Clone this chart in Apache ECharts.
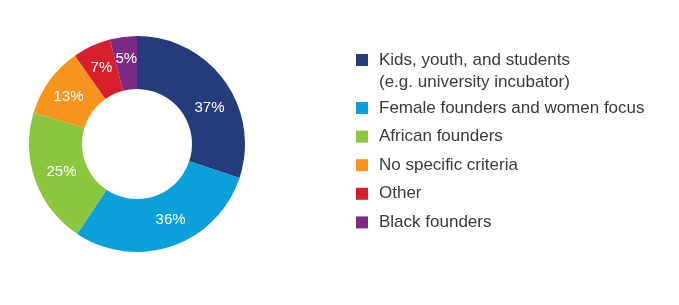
<!DOCTYPE html>
<html>
<head>
<meta charset="utf-8">
<script src="https://cdn.jsdelivr.net/npm/echarts@6/dist/echarts.min.js"></script>
<style>
html,body{margin:0;padding:0;background:#fff;}
#c{width:679px;height:305px;}
</style>
</head>
<body>
<div id="c"></div>
<script>
const categories = [
  'Kids, youth, and students\n(e.g. university incubator)',
  'Female founders and women focus',
  'African founders',
  'No specific criteria',
  'Other',
  'Black founders'
];
const values = [37, 36, 25, 13, 7, 5];
const colors = ['#253b7c', '#0ba0da', '#8cc63f', '#f7941d', '#d71f2b', '#7c2a84'];
const labelShift = [[4, 13], [6, -4], [4, -1], [0, 2], [0, 1], [0, -1]];

const FONT = '"Liberation Sans", Arial, Helvetica, sans-serif';
const chart = echarts.init(document.getElementById('c'), null, {renderer: 'canvas'});

const data = categories.map((c, i) => ({name: c, value: values[i], itemStyle: {color: colors[i]}}));

chart.setOption({
  animation: false,
  backgroundColor: '#fff',
  legend: [
    {
      data: [categories[0]],
      orient: 'vertical',
      left: 356,
      top: 27,
      padding: 0,
      itemWidth: 12,
      itemHeight: 12,
      icon: 'rect',
      selectedMode: false,
      formatter: n => ' \n' + n,
      textStyle: {fontFamily: FONT, fontSize: 17, color: '#3a3a3a', lineHeight: 22, padding: [0, 0, 0, 6]}
    },
    {
      data: categories.slice(1),
      orient: 'vertical',
      left: 356,
      top: 98,
      padding: 0,
      itemWidth: 12,
      itemHeight: 12,
      itemGap: 8.6,
      icon: 'rect',
      selectedMode: false,
      textStyle: {fontFamily: FONT, fontSize: 17, color: '#3a3a3a', lineHeight: 20, padding: [0, 0, 0, 6]}
    }
  ],
  series: [{
    type: 'pie',
    center: [137, 144],
    radius: [55, 108],
    startAngle: 90,
    clockwise: true,
    avoidLabelOverlap: false,
    label: {
      show: true,
      position: 'inside',
      formatter: '{c}%',
      color: '#fff',
      fontFamily: FONT,
      fontSize: 15
    },
    labelLayout: p => ({dx: labelShift[p.dataIndex][0], dy: labelShift[p.dataIndex][1]}),
    labelLine: {show: false},
    emphasis: {disabled: true},
    data: data
  }]
});
</script>
</body>
</html>
